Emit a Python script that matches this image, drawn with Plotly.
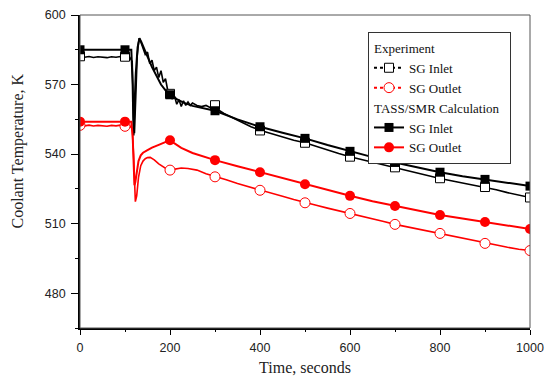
import plotly.graph_objects as go

# ---------------- data ----------------
# Experiment, SG inlet (measured, noisy trace)
exp_in_t = [0, 10, 20, 30, 40, 50, 60, 70, 80, 90, 100, 110, 116, 119, 121, 124, 127, 130, 132, 135,
            140, 145, 150, 155, 160, 165, 170, 175, 180, 185, 190, 195, 200, 205, 210, 215, 220, 225,
            230, 235, 240, 245, 250, 260, 270, 280, 290, 300, 320, 340, 360, 380, 400, 425, 450, 475,
            500, 525, 550, 575, 600, 625, 650, 675, 700, 725, 750, 775, 800, 825, 850, 875, 900, 925,
            950, 975, 1000]
exp_in_T = [582.0, 581.8, 582.1, 581.7, 582.0, 581.9, 581.6, 582.0, 581.8, 582.1, 581.7, 581.9, 580.0,
            556.0, 549.0, 565.0, 582.0, 588.0, 590.0, 588.5,
            586.0, 583.0, 584.0, 579.0, 580.5, 576.0, 577.5, 573.0, 576.0, 571.0, 572.5, 567.5, 567.0,
            564.0, 565.0, 561.5, 563.5, 560.5, 563.0, 561.0, 562.5, 561.0, 562.0, 561.0, 560.5, 561.0,
            560.0, 560.0, 557.5, 555.5, 553.5, 551.8, 550.3, 548.8, 547.3, 546.0, 544.9, 543.3, 541.8,
            540.3, 538.9, 537.7, 536.4, 535.3, 534.3, 533.1, 531.9, 530.6, 529.5, 528.5, 527.5, 526.7,
            525.8, 524.6, 523.4, 522.4, 521.3]

# Experiment, SG outlet
exp_out_t = [0, 10, 20, 30, 40, 50, 60, 70, 80, 90, 100, 110, 116, 119, 121, 123, 126, 130, 135, 140,
             145, 150, 156, 165, 175, 185, 195, 205, 215, 225, 240, 260, 280, 300, 325, 350, 375, 400,
             425, 450, 475, 500, 525, 550, 575, 600, 625, 650, 675, 700, 725, 750, 775, 800, 825, 850,
             875, 900, 925, 950, 975, 1000]
exp_out_T = [552.4, 552.2, 552.5, 552.1, 552.4, 552.3, 552.0, 552.4, 552.2, 552.5, 552.1, 552.3, 551.0,
             540.0, 528.0, 519.5, 522.0, 530.0, 535.0, 537.0, 538.0, 538.5, 538.6, 537.5, 535.8, 534.5,
             533.3, 533.3, 533.8, 534.0, 533.8, 533.1, 531.5, 530.2, 528.9, 527.3, 526.0, 524.5, 523.2,
             521.8, 520.4, 519.0, 517.9, 516.7, 515.6, 514.5, 513.3, 512.1, 510.9, 509.7, 508.7, 507.8,
             506.8, 505.8, 504.7, 503.5, 502.5, 501.5, 500.7, 499.8, 499.0, 498.4]

# TASS/SMR calculation, SG inlet
calc_in_t = [0, 100, 114, 117, 119, 121, 124, 128, 132, 136, 140, 150, 160, 170, 180, 190, 200, 215,
             230, 250, 275, 300, 350, 400, 450, 500, 550, 600, 650, 700, 750, 800, 850, 900, 950, 1000]
calc_in_T = [585.0, 585.0, 585.0, 570.0, 548.0, 560.0, 575.0, 586.0, 590.0, 588.5, 586.5, 582.0, 577.5,
             573.5, 570.0, 567.5, 565.8, 563.7, 562.2, 560.8, 559.7, 558.7, 555.0, 551.8, 549.2, 546.8,
             543.9, 541.2, 538.7, 536.4, 534.2, 532.2, 530.5, 529.0, 527.5, 526.2]

# TASS/SMR calculation, SG outlet
calc_out_t = [0, 100, 114, 117, 119, 121, 123, 126, 130, 135, 140, 150, 160, 175, 190, 200, 210, 225,
              250, 275, 300, 350, 400, 450, 500, 550, 600, 650, 700, 750, 800, 850, 900, 950, 1000]
calc_out_T = [554.0, 554.0, 554.0, 548.0, 535.0, 526.6, 528.0, 533.0, 537.0, 539.5, 540.6, 541.7, 542.8,
              544.0, 545.3, 546.0, 544.6, 542.7, 540.5, 538.8, 537.4, 534.8, 532.2, 529.6, 527.0, 524.4,
              522.0, 519.7, 517.6, 515.6, 513.7, 512.2, 510.7, 509.2, 507.7]

# symbols every 100 s
mark_t = [0, 100, 200, 300, 400, 500, 600, 700, 800, 900, 1000]
exp_in_mark = [582.2, 582.0, 566.0, 561.1, 550.2, 544.9, 538.9, 534.3, 529.6, 525.8, 521.3]
exp_out_mark = [552.4, 552.0, 533.1, 530.2, 524.4, 519.0, 514.4, 509.7, 505.8, 501.5, 498.4]
calc_in_mark = [585.0, 585.0, 565.6, 558.7, 551.8, 546.8, 541.2, 536.4, 532.2, 529.1, 526.2]
calc_out_mark = [554.0, 554.0, 546.0, 537.4, 532.2, 527.0, 522.0, 517.6, 513.7, 510.7, 507.7]

x_ticks = [0, 200, 400, 600, 800, 1000]
y_ticks = [480, 510, 540, 570, 600]

RED = "#ff0000"
BLK = "#000000"

fig = go.Figure()

# --- experiment curves ---
fig.add_trace(go.Scatter(x=exp_in_t, y=exp_in_T, mode="lines",
                         line=dict(color=BLK, width=1.6), showlegend=False, hoverinfo="skip"))
fig.add_trace(go.Scatter(x=exp_out_t, y=exp_out_T, mode="lines",
                         line=dict(color=RED, width=1.6), showlegend=False, hoverinfo="skip"))
fig.add_trace(go.Scatter(x=mark_t, y=exp_in_mark, mode="markers",
                         marker=dict(symbol="square", size=9, color="white",
                                     line=dict(color=BLK, width=1)), showlegend=False))
fig.add_trace(go.Scatter(x=mark_t, y=exp_out_mark, mode="markers",
                         marker=dict(symbol="circle", size=10, color="white",
                                     line=dict(color=RED, width=1)), showlegend=False))

# --- calculation curves ---
fig.add_trace(go.Scatter(x=calc_in_t, y=calc_in_T, mode="lines",
                         line=dict(color=BLK, width=2), showlegend=False, hoverinfo="skip"))
fig.add_trace(go.Scatter(x=calc_out_t, y=calc_out_T, mode="lines",
                         line=dict(color=RED, width=2), showlegend=False, hoverinfo="skip"))
fig.add_trace(go.Scatter(x=mark_t, y=calc_in_mark, mode="markers",
                         marker=dict(symbol="square", size=9, color=BLK), showlegend=False))
fig.add_trace(go.Scatter(x=mark_t, y=calc_out_mark, mode="markers",
                         marker=dict(symbol="circle", size=10, color=RED), showlegend=False))

# --- legend entries ---
fig.add_trace(go.Scatter(x=[None], y=[None], mode="lines+markers", name="SG Inlet",
                         legendgroup="exp", legendgrouptitle=dict(text="Experiment"),
                         line=dict(color=BLK, width=2, dash="dot"),
                         marker=dict(symbol="square", size=9, color="white",
                                     line=dict(color=BLK, width=1))))
fig.add_trace(go.Scatter(x=[None], y=[None], mode="lines+markers", name="SG Outlet",
                         legendgroup="exp",
                         line=dict(color=RED, width=2, dash="dot"),
                         marker=dict(symbol="circle", size=10, color="white",
                                     line=dict(color=RED, width=1))))
fig.add_trace(go.Scatter(x=[None], y=[None], mode="lines+markers", name="SG Inlet",
                         legendgroup="calc", legendgrouptitle=dict(text="TASS/SMR Calculation"),
                         line=dict(color=BLK, width=2),
                         marker=dict(symbol="square", size=9, color=BLK)))
fig.add_trace(go.Scatter(x=[None], y=[None], mode="lines+markers", name="SG Outlet",
                         legendgroup="calc",
                         line=dict(color=RED, width=2),
                         marker=dict(symbol="circle", size=10, color=RED)))

tick_font = dict(family="Liberation Sans, Arial, sans-serif", size=12.5, color="#222")
title_font = dict(family="Liberation Serif, Times New Roman, serif", size=16, color="#222")
legend_font = dict(family="Liberation Serif, Times New Roman, serif", size=13, color="#111")

fig.update_layout(
    width=549, height=376,
    margin=dict(l=80, r=19, t=15, b=48, autoexpand=False),
    paper_bgcolor="white", plot_bgcolor="white",
    showlegend=True,
    legend=dict(x=0.64, y=0.946, xanchor="left", yanchor="top",
                bgcolor="white", bordercolor="#333", borderwidth=1,
                font=legend_font, grouptitlefont=legend_font,
                tracegroupgap=0, itemwidth=30),
    xaxis=dict(range=[0, 1000], tickvals=x_ticks, ticks="outside", ticklen=5, tickwidth=1.2,
               tickcolor=BLK, showline=True, linecolor=BLK, linewidth=1.6, showgrid=False,
               zeroline=False, tickfont=tick_font, ticklabelstandoff=2, automargin=False,
               minor=dict(dtick=100, tick0=0, ticks="outside", ticklen=2.5, tickcolor=BLK,
                          showgrid=False),
               title=dict(text="Time, seconds", font=title_font, standoff=8)),
    yaxis=dict(range=[465, 600], tickvals=y_ticks, ticks="outside", ticklen=7, tickwidth=1.2,
               tickcolor=BLK, showline=True, linecolor=BLK, linewidth=1.6, showgrid=False,
               zeroline=False, tickfont=tick_font, ticklabelstandoff=3, automargin=False,
               minor=dict(dtick=15, tick0=465, ticks="outside", ticklen=3, tickcolor=BLK,
                          showgrid=False)),
    annotations=[dict(text="Coolant Temperature, K", textangle=-90, showarrow=False,
                      xref="paper", yref="paper", x=-0.137, y=0.565,
                      xanchor="center", yanchor="middle", font=title_font)],
    shapes=[dict(type="rect", xref="paper", yref="paper", x0=0, y0=0, x1=1, y1=1,
                 line=dict(color="#555", width=1), layer="above")],
)

fig.write_html("out.html", config={"displayModeBar": False},
               post_script="document.body.style.margin='0';document.body.style.overflow='hidden';")
